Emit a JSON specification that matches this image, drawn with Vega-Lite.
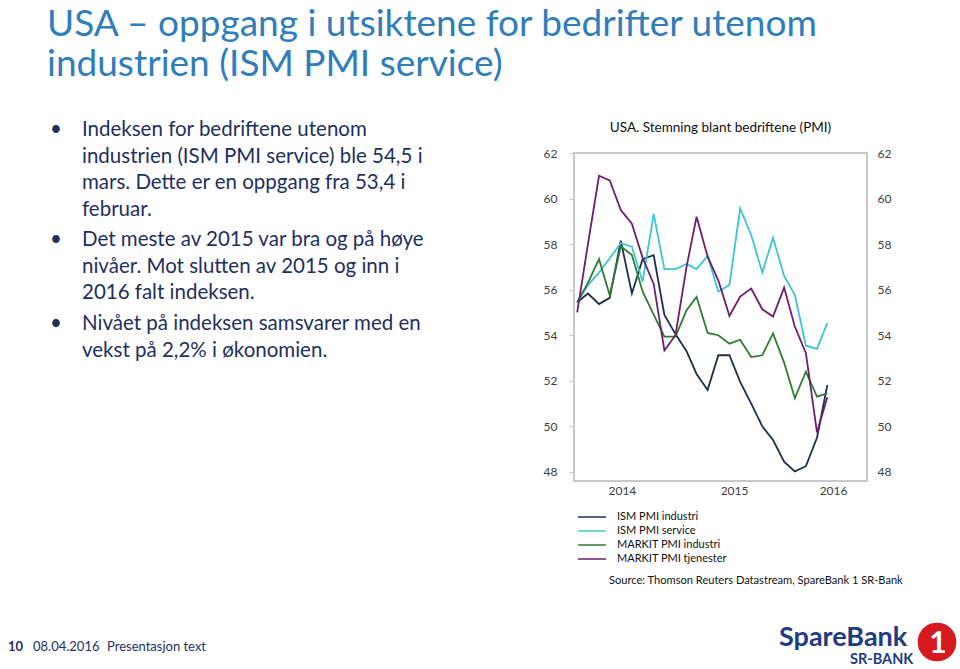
{
  "$schema": "https://vega.github.io/schema/vega-lite/v6.json",
  "width": 293,
  "height": 328,
  "autosize": {"type": "none"},
  "padding": {"left": 574, "top": 153, "right": 93, "bottom": 188},
  "background": "white",
  "config": {
    "font": "Lato",
    "view": {"stroke": "#C8C8C8", "strokeWidth": 2},
    "axis": {"labelFont": "Lato", "labelFontSize": 12, "labelColor": "#404040", "grid": false, "domain": false}
  },
  "datasets": {
    "pmi": [
      {"date": "2014-04-01", "ISM PMI industri": 55.45, "ISM PMI service": 55.45, "MARKIT PMI industri": 55.45, "MARKIT PMI tjenester": 55.0},
      {"date": "2014-05-01", "ISM PMI industri": 55.83, "ISM PMI service": 56.2, "MARKIT PMI industri": 56.3, "MARKIT PMI tjenester": 58.0},
      {"date": "2014-06-01", "ISM PMI industri": 55.37, "ISM PMI service": 56.75, "MARKIT PMI industri": 57.34, "MARKIT PMI tjenester": 61.0},
      {"date": "2014-07-01", "ISM PMI industri": 55.64, "ISM PMI service": 57.38, "MARKIT PMI industri": 55.76, "MARKIT PMI tjenester": 60.8},
      {"date": "2014-08-01", "ISM PMI industri": 58.15, "ISM PMI service": 58.04, "MARKIT PMI industri": 57.9, "MARKIT PMI tjenester": 59.5},
      {"date": "2014-09-01", "ISM PMI industri": 55.83, "ISM PMI service": 57.89, "MARKIT PMI industri": 57.52, "MARKIT PMI tjenester": 58.9},
      {"date": "2014-10-01", "ISM PMI industri": 57.34, "ISM PMI service": 56.35, "MARKIT PMI industri": 55.92, "MARKIT PMI tjenester": 57.4},
      {"date": "2014-11-01", "ISM PMI industri": 57.51, "ISM PMI service": 59.32, "MARKIT PMI industri": 54.9, "MARKIT PMI tjenester": 56.25},
      {"date": "2014-12-01", "ISM PMI industri": 54.89, "ISM PMI service": 56.9, "MARKIT PMI industri": 53.94, "MARKIT PMI tjenester": 53.33},
      {"date": "2015-01-01", "ISM PMI industri": 54.05, "ISM PMI service": 56.9, "MARKIT PMI industri": 53.94, "MARKIT PMI tjenester": 54.0},
      {"date": "2015-02-01", "ISM PMI industri": 53.3, "ISM PMI service": 57.13, "MARKIT PMI industri": 55.1, "MARKIT PMI tjenester": 57.0},
      {"date": "2015-03-01", "ISM PMI industri": 52.3, "ISM PMI service": 56.9, "MARKIT PMI industri": 55.68, "MARKIT PMI tjenester": 59.2},
      {"date": "2015-04-01", "ISM PMI industri": 51.6, "ISM PMI service": 57.48, "MARKIT PMI industri": 54.1, "MARKIT PMI tjenester": 57.45},
      {"date": "2015-05-01", "ISM PMI industri": 53.12, "ISM PMI service": 55.91, "MARKIT PMI industri": 54.0, "MARKIT PMI tjenester": 56.4},
      {"date": "2015-06-01", "ISM PMI industri": 53.12, "ISM PMI service": 56.21, "MARKIT PMI industri": 53.63, "MARKIT PMI tjenester": 54.85},
      {"date": "2015-07-01", "ISM PMI industri": 51.95, "ISM PMI service": 59.57, "MARKIT PMI industri": 53.8, "MARKIT PMI tjenester": 55.7},
      {"date": "2015-08-01", "ISM PMI industri": 51.0, "ISM PMI service": 58.4, "MARKIT PMI industri": 53.04, "MARKIT PMI tjenester": 56.05},
      {"date": "2015-09-01", "ISM PMI industri": 50.0, "ISM PMI service": 56.75, "MARKIT PMI industri": 53.12, "MARKIT PMI tjenester": 55.14},
      {"date": "2015-10-01", "ISM PMI industri": 49.4, "ISM PMI service": 58.28, "MARKIT PMI industri": 54.08, "MARKIT PMI tjenester": 54.82},
      {"date": "2015-11-01", "ISM PMI industri": 48.45, "ISM PMI service": 56.6, "MARKIT PMI industri": 52.8, "MARKIT PMI tjenester": 56.09},
      {"date": "2015-12-01", "ISM PMI industri": 48.02, "ISM PMI service": 55.77, "MARKIT PMI industri": 51.24, "MARKIT PMI tjenester": 54.38},
      {"date": "2016-01-01", "ISM PMI industri": 48.25, "ISM PMI service": 53.54, "MARKIT PMI industri": 52.4, "MARKIT PMI tjenester": 53.21},
      {"date": "2016-02-01", "ISM PMI industri": 49.5, "ISM PMI service": 53.4, "MARKIT PMI industri": 51.3, "MARKIT PMI tjenester": 49.73},
      {"date": "2016-03-01", "ISM PMI industri": 51.82, "ISM PMI service": 54.53, "MARKIT PMI industri": 51.45, "MARKIT PMI tjenester": 51.28}
    ],
    "serier": [
      {"serie": "ISM PMI industri"},
      {"serie": "ISM PMI service"},
      {"serie": "MARKIT PMI industri"},
      {"serie": "MARKIT PMI tjenester"}
    ]
  },
  "layer": [
    {
      "data": {"name": "pmi"},
      "transform": [
        {"fold": ["ISM PMI industri", "ISM PMI service", "MARKIT PMI industri", "MARKIT PMI tjenester"], "as": ["serie", "verdi"]}
      ],
      "mark": {"type": "line", "strokeWidth": 1.8},
      "encoding": {
        "x": {
          "field": "date", "type": "temporal", "title": null,
          "scale": {"type": "utc", "domain": [{"year": 2014, "month": 3, "date": 23, "utc": true}, {"year": 2016, "month": 6, "date": 20, "utc": true}]},
          "axis": {"values": [{"year": 2014, "month": 8, "date": 4, "utc": true}, {"year": 2015, "month": 6, "date": 14, "utc": true}, {"year": 2016, "month": 3, "date": 17, "utc": true}], "labelExpr": "utcFormat(datum.value, '%Y')", "ticks": false, "labelPadding": 4, "labelFlush": false}
        },
        "y": {"field": "verdi", "type": "quantitative", "title": null, "scale": {"domain": [47.6, 62], "nice": false, "zero": false}, "axis": {"orient": "left", "values": [48, 50, 52, 54, 56, 58, 60, 62], "tickSize": 5, "tickColor": "#C8C8C8", "labelPadding": 12}},
        "color": {
          "field": "serie", "type": "nominal",
          "scale": {"domain": ["ISM PMI industri", "ISM PMI service", "MARKIT PMI industri", "MARKIT PMI tjenester"], "range": ["#1F2E4F", "#3CC4D9", "#2E7D32", "#6F1D6F"]},
          "legend": null
        }
      }
    },
    {
      "data": {"name": "pmi"},
      "transform": [
        {"fold": ["ISM PMI industri", "ISM PMI service", "MARKIT PMI industri", "MARKIT PMI tjenester"], "as": ["serie", "verdi"]}
      ],
      "mark": {"type": "line", "opacity": 0},
      "encoding": {
        "x": {"field": "date", "type": "temporal"},
        "detail": {"field": "serie"},
        "y": {"field": "verdi", "type": "quantitative", "title": null, "scale": {"domain": [47.6, 62], "nice": false, "zero": false}, "axis": {"orient": "right", "values": [48, 50, 52, 54, 56, 58, 60, 62], "ticks": false, "labelPadding": 10}}
      }
    },
    {
      "data": {"name": "serier"},
      "encoding": {
        "y": {"field": "serie", "type": "nominal", "axis": null, "scale": {"type": "point", "domain": ["ISM PMI industri", "ISM PMI service", "MARKIT PMI industri", "MARKIT PMI tjenester"], "range": [364, 406], "padding": 0}}
      },
      "layer": [
        {
          "mark": {"type": "rule", "strokeWidth": 1.5},
          "encoding": {
            "x": {"value": 4},
            "x2": {"value": 32},
            "color": {"field": "serie", "type": "nominal", "legend": null}
          }
        },
        {
          "mark": {"type": "text", "align": "left", "baseline": "middle", "fontSize": 11, "color": "#111111", "font": "Lato"},
          "encoding": {
            "x": {"value": 43},
            "text": {"field": "serie"}
          }
        }
      ]
    },
    {
      "data": {"values": [{"t": "USA. Stemning blant bedriftene (PMI)"}]},
      "mark": {"type": "text", "x": 146.5, "y": -21, "align": "center", "baseline": "alphabetic", "fontSize": 13.5, "color": "#111111", "font": "Lato"},
      "encoding": {"text": {"field": "t"}}
    },
    {
      "data": {"values": [{"t": "USA – oppgang i utsiktene for bedrifter utenom"}]},
      "mark": {"type": "text", "x": -527, "y": -117, "align": "left", "baseline": "alphabetic", "fontSize": 37, "color": "#2F7EBB", "font": "Lato"},
      "encoding": {"text": {"field": "t"}}
    },
    {
      "data": {"values": [{"t": "industrien (ISM PMI service)"}]},
      "mark": {"type": "text", "x": -527, "y": -77.5, "align": "left", "baseline": "alphabetic", "fontSize": 37, "color": "#2F7EBB", "font": "Lato"},
      "encoding": {"text": {"field": "t"}}
    },
    {
      "data": {"values": [{"t": ["Indeksen for bedriftene utenom", "industrien (ISM PMI service) ble 54,5 i", "mars. Dette er en oppgang fra 53,4 i", "februar."]}]},
      "mark": {"type": "text", "x": -492, "y": -17, "align": "left", "baseline": "alphabetic", "fontSize": 20.5, "lineHeight": 26.7, "color": "#1F2F5F", "font": "Lato"},
      "encoding": {"text": {"field": "t"}}
    },
    {
      "data": {"values": [{"t": ["Det meste av 2015 var bra og på høye", "nivåer. Mot slutten av 2015 og inn i", "2016 falt indeksen."]}]},
      "mark": {"type": "text", "x": -492, "y": 93, "align": "left", "baseline": "alphabetic", "fontSize": 20.5, "lineHeight": 26.7, "color": "#1F2F5F", "font": "Lato"},
      "encoding": {"text": {"field": "t"}}
    },
    {
      "data": {"values": [{"t": ["Nivået på indeksen samsvarer med en", "vekst på 2,2% i økonomien."]}]},
      "mark": {"type": "text", "x": -492, "y": 177, "align": "left", "baseline": "alphabetic", "fontSize": 20.5, "lineHeight": 26.7, "color": "#1F2F5F", "font": "Lato"},
      "encoding": {"text": {"field": "t"}}
    },
    {
      "data": {"values": [{"t": "•"}]},
      "mark": {"type": "text", "x": -524, "y": -17, "align": "left", "baseline": "alphabetic", "fontSize": 20.5, "color": "#1F2F5F", "font": "Lato"},
      "encoding": {"text": {"field": "t"}}
    },
    {
      "data": {"values": [{"t": "•"}]},
      "mark": {"type": "text", "x": -524, "y": 93, "align": "left", "baseline": "alphabetic", "fontSize": 20.5, "color": "#1F2F5F", "font": "Lato"},
      "encoding": {"text": {"field": "t"}}
    },
    {
      "data": {"values": [{"t": "•"}]},
      "mark": {"type": "text", "x": -524, "y": 177, "align": "left", "baseline": "alphabetic", "fontSize": 20.5, "color": "#1F2F5F", "font": "Lato"},
      "encoding": {"text": {"field": "t"}}
    },
    {
      "data": {"values": [{"t": "Source: Thomson Reuters Datastream, SpareBank 1 SR-Bank"}]},
      "mark": {"type": "text", "x": 35, "y": 431, "align": "left", "baseline": "alphabetic", "fontSize": 11.1, "color": "#111111", "font": "Lato"},
      "encoding": {"text": {"field": "t"}}
    },
    {
      "data": {"values": [{"t": "10"}]},
      "mark": {"type": "text", "x": -566, "y": 498, "align": "left", "baseline": "alphabetic", "fontSize": 13, "fontWeight": "bold", "color": "#1F2F5F", "font": "Lato"},
      "encoding": {"text": {"field": "t"}}
    },
    {
      "data": {"values": [{"t": "08.04.2016"}]},
      "mark": {"type": "text", "x": -541, "y": 498, "align": "left", "baseline": "alphabetic", "fontSize": 13, "color": "#1F2F5F", "font": "Lato"},
      "encoding": {"text": {"field": "t"}}
    },
    {
      "data": {"values": [{"t": "Presentasjon text"}]},
      "mark": {"type": "text", "x": -467, "y": 498, "align": "left", "baseline": "alphabetic", "fontSize": 13, "color": "#1F2F5F", "font": "Lato"},
      "encoding": {"text": {"field": "t"}}
    },
    {
      "data": {"values": [{"t": "SpareBank"}]},
      "mark": {"type": "text", "x": 205, "y": 493, "align": "left", "baseline": "alphabetic", "fontSize": 27, "fontWeight": "bold", "color": "#1E3C80", "font": "Lato"},
      "encoding": {"text": {"field": "t"}}
    },
    {
      "data": {"values": [{"t": "SR-BANK"}]},
      "mark": {"type": "text", "x": 276, "y": 511, "align": "left", "baseline": "alphabetic", "fontSize": 14.5, "fontWeight": "bold", "color": "#1E3C80", "font": "Lato"},
      "encoding": {"text": {"field": "t"}}
    },
    {
      "data": {"values": [{"t": "1"}]},
      "mark": {"type": "point", "x": 363, "y": 489, "shape": "circle", "size": 1500, "filled": true, "color": "#D71920", "opacity": 1},
      "encoding": {}
    },
    {
      "data": {"values": [{"t": "1"}]},
      "mark": {"type": "text", "x": 364, "y": 500, "align": "center", "baseline": "alphabetic", "fontSize": 30, "fontWeight": "bold", "color": "white", "font": "Lato"},
      "encoding": {"text": {"field": "t"}}
    }
  ],
  "resolve": {"scale": {"y": "independent"}, "axis": {"y": "independent"}}
}
